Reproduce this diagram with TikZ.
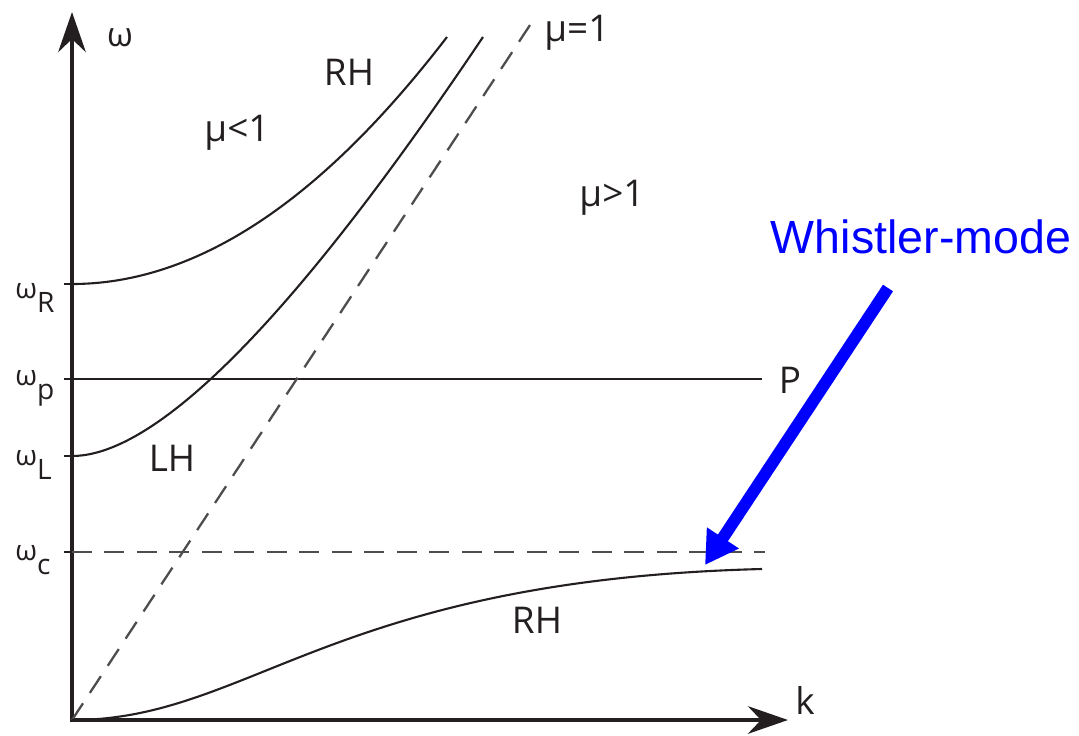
\documentclass[tikz,border=0pt]{standalone}
\usepackage{fontspec}
\setmainfont{Open Sans}
\newfontfamily\arialfont{Liberation Sans}
\usetikzlibrary{arrows.meta}
\definecolor{plotInk}{HTML}{231F20}
\definecolor{wmBlue}{HTML}{0000FF}

\begin{document}
\begin{tikzpicture}[x=0.02cm, y=-0.02cm,
  axis/.style={line width=2.6pt, color=plotInk, {Stealth[length=0.8cm, width=0.55cm]}-{Stealth[length=0.8cm, width=0.55cm]}},
  curve/.style={line width=1.2pt, color=plotInk},
  guide/.style={line width=1.3pt, color=plotInk!80, dash pattern=on 0.4cm off 0.25cm},
  tickmark/.style={line width=1pt, color=plotInk},
  lvl/.style={font=\fontsize{16}{18}\selectfont, anchor=base west, inner sep=0pt, color=plotInk},
  region/.style={font=\fontsize{21}{24}\selectfont, color=plotInk, inner sep=0pt},
  mulbl/.style={font=\fontsize{21}{24}\selectfont, color=plotInk, inner sep=0pt},
  callout/.style={line width=0.24cm, color=wmBlue, -{Triangle[length=0.65cm, width=0.72cm]}}
]
  \useasboundingbox (0,0) rectangle (1079,735);

  % axes
  \coordinate (O) at (72,720);
  \coordinate (ytop) at (72,12);
  \coordinate (xend) at (788,720);
  \draw[axis] (ytop) -- (O) -- (xend);
  \node[font=\fontsize{19}{22}\selectfont, color=plotInk] (wlbl) at (120,38) {ω};
  \node[font=\fontsize{21}{24}\selectfont, color=plotInk] (klbl) at (805,700) {k};

  % levels on the omega axis
  \foreach \yy/\name in {284/wR, 379/wp, 456/wL, 552/wc}{
    \coordinate (\name) at (72,\yy);
    \draw[tickmark] (64,\yy) -- (\name);
  }
  \node[lvl] (wRl) at (15,298) {ω\raisebox{-0.5em}{R}};
  \node[lvl] (wpl) at (15,385) {ω\raisebox{-0.5em}{p}};
  \node[lvl] (wLl) at (15,465) {ω\raisebox{-0.5em}{L}};
  \node[lvl] (wcl) at (15,560) {ω\raisebox{-0.5em}{c}};

  % P line and omega_c line
  \coordinate (pend) at (762,379);
  \coordinate (cend) at (765,552);
  \draw[curve] (wp) -- (pend);
  \node[region] (plbl) at (790,380) {P};
  \draw[guide] (wc) -- (cend);

  % light line mu=1
  \coordinate (mutop) at (532,22);
  \draw[guide] (O) -- (mutop);
  \node[mulbl, anchor=west] (mu1) at (544,33) {μ=1};

  % branches
  \coordinate (rhtop) at (447,37);
  \coordinate (lhtop) at (483,37);
  \coordinate (rhlow) at (762,569);
  \draw[curve] (wR) .. controls (230,284) and (360,150) .. (rhtop);
  \draw[curve] (wL) .. controls (190,456) and (380,190) .. (lhtop);
  \draw[curve] (O) .. controls (250,720) and (330,580) .. (rhlow);

  % region labels
  \node[region] (rhu) at (349,72) {RH};
  \node[mulbl] (mulo) at (237,133) {μ<1};
  \node[mulbl] (muhi) at (612,198) {μ>1};
  \node[region] (lhl) at (172,458) {LH};
  \node[region] (rhl) at (537,620) {RH};

  % whistler callout
  \node[font=\arialfont\fontsize{26.5}{30}\selectfont, color=wmBlue, inner sep=0pt] (wm) at (921,237) {Whistler-mode};
  \coordinate (wmfrom) at (888,288);
  \coordinate (wmto) at (705,565);
  \draw[callout] (wmfrom) -- (wmto);
\end{tikzpicture}
\end{document}
